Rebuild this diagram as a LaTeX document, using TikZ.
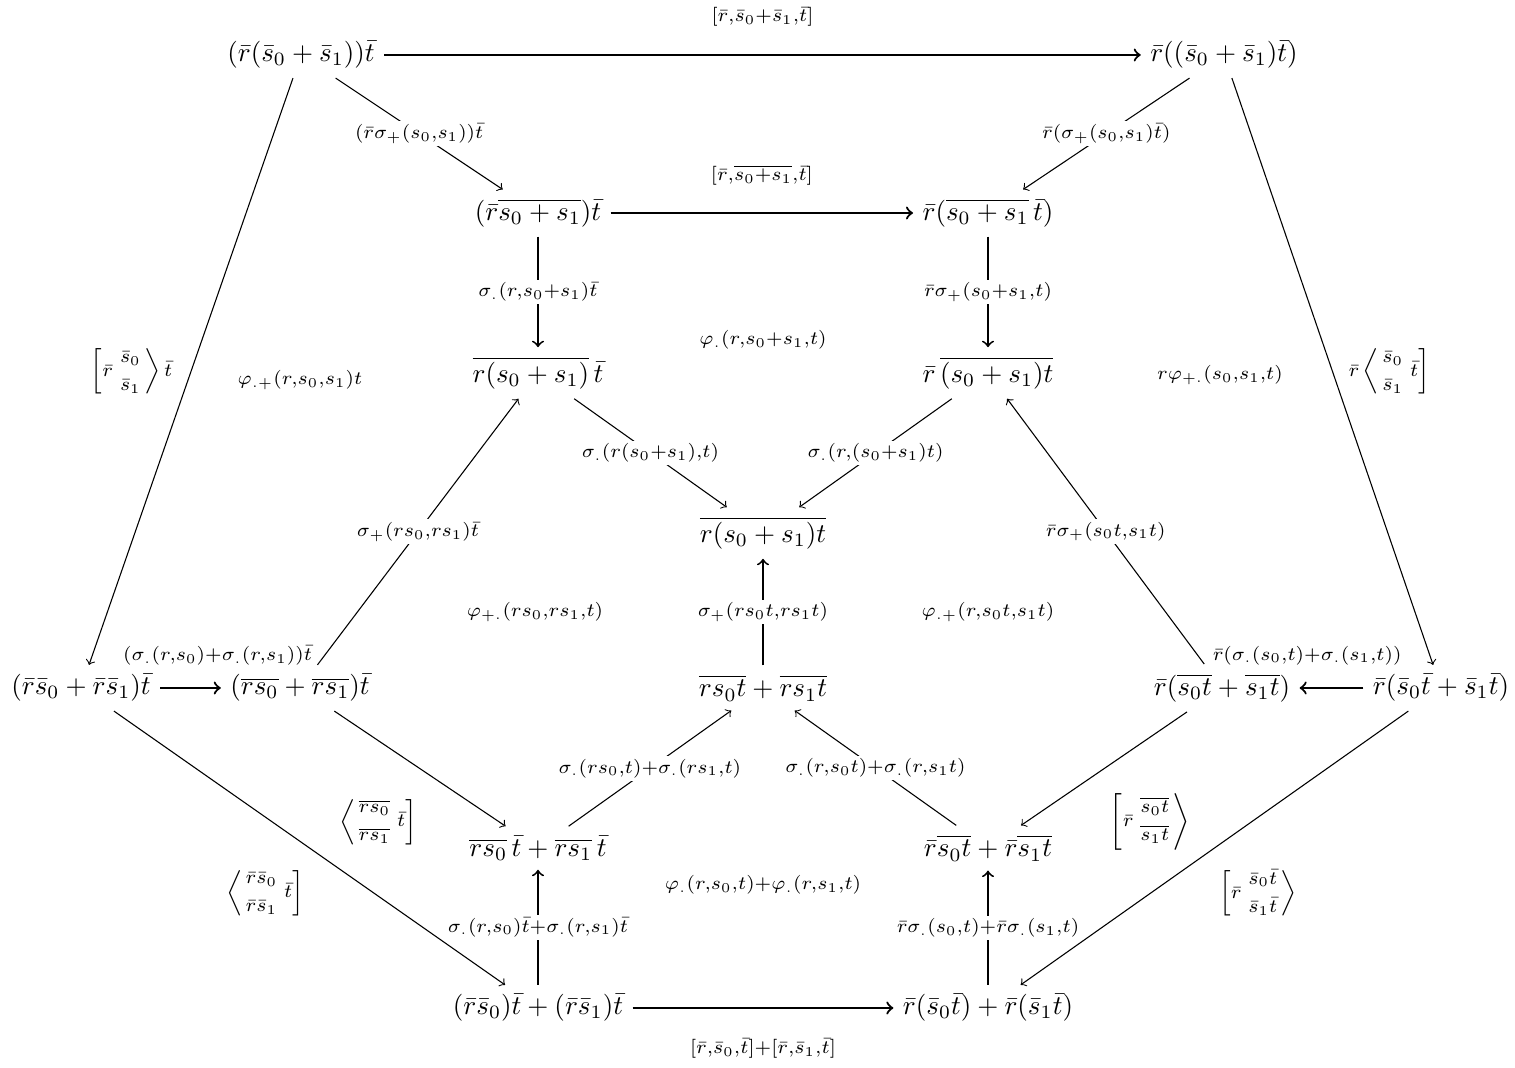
\documentclass[tikz,border=0pt]{standalone}
\usepackage{amsmath}
\mathcode`\,="013B
\newcommand{\stk}[2]{\genfrac{}{}{0pt}{0}{#1}{#2}}
\begin{document}
\begin{tikzpicture}[x=0.013cm,y=-0.013cm,>=to,
    lab/.style={font=\scriptsize,inner sep=1pt},
    onlab/.style={lab,fill=white},
    heavy/.style={line width=0.8pt},
    vert/.style={line width=0.7pt}]
  \useasboundingbox (0,0) rectangle (1515,1068);
  \draw
    (301,55) node (a){$(\bar r(\bar s_0+\bar s_1))\bar t$}
    (1224,55) node (b){$\bar r((\bar s_0+\bar s_1)\bar t)$}
    (538,213) node (c){$(\bar r\overline{s_0+s_1})\bar t$}
    (988,213) node (d){$\bar r(\overline{s_0+s_1}\,\bar t)$}
    (538,373) node (e){$\overline{r(s_0+s_1)}\,\bar t$}
    (988,373) node (f){$\bar r\,\overline{(s_0+s_1)t}$}
    (763,533) node (g){$\overline{r(s_0+s_1)t}$}
    (81,688) node (h){$(\bar r\bar s_0+\bar r\bar s_1)\bar t$}
    (300,688) node (i){$(\overline{rs_0}+\overline{rs_1})\bar t$}
    (763,688) node (j){$\overline{rs_0t}+\overline{rs_1t}$}
    (1222,688) node (k){$\bar r(\overline{s_0t}+\overline{s_1t})$}
    (1441,688) node (l){$\bar r(\bar s_0\bar t+\bar s_1\bar t)$}
    (538,848) node (m){$\overline{rs_0}\,\bar t+\overline{rs_1}\,\bar t$}
    (988,848) node (n){$\bar r\overline{s_0t}+\bar r\overline{s_1t}$}
    (538,1008) node (o){$(\bar r\bar s_0)\bar t+(\bar r\bar s_1)\bar t$}
    (988,1008) node (p){$\bar r(\bar s_0\bar t)+\bar r(\bar s_1\bar t)$};
  % faces
  \draw
    (763,340) node[lab] (phi1){$\varphi_{.}(r,s_0{+}s_1,t)$}
    (300,380) node[lab] (phi2){$\varphi_{.+}(r,s_0,s_1)t$}
    (1220,375) node[lab] (phi3){$r\varphi_{+.}(s_0,s_1,t)$}
    (535,612) node[lab] (phi4){$\varphi_{+.}(rs_0,rs_1,t)$}
    (988,612) node[lab] (phi5){$\varphi_{.+}(r,s_0t,s_1t)$}
    (763,885) node[lab] (phi6){$\varphi_{.}(r,s_0,t){+}\varphi_{.}(r,s_1,t)$}
    (378,822) node[lab] (q1){$\left\langle\stk{\overline{rs_0}}{\overline{rs_1}}\,\bar t\right]$}
    (265,893) node[lab] (q2){$\left\langle\stk{\bar r\bar s_0}{\bar r\bar s_1}\,\bar t\right]$}
    (1150,822) node[lab] (q3){$\left[\bar r\,\stk{\overline{s_0t}}{\overline{s_1t}}\right\rangle$}
    (1258,893) node[lab] (q4){$\left[\bar r\,\stk{\bar s_0\bar t}{\bar s_1\bar t}\right\rangle$};
  \begin{scope}[->]
    \draw[heavy] (a) to node[lab,midway,yshift=14pt]{$[\bar r,\bar s_0{+}\bar s_1,\bar t]$} (b);
    \draw (a) to node[onlab,midway]{$(\bar r\sigma_+(s_0,s_1))\bar t$} (c);
    \draw (b) to node[onlab,midway]{$\bar r(\sigma_+(s_0,s_1)\bar t)$} (d);
    \draw (a) to node[lab,midway,xshift=-22pt]{$\left[\bar r\,\stk{\bar s_0}{\bar s_1}\right\rangle\bar t$} (h);
    \draw (b) to node[lab,midway,xshift=21pt]{$\bar r\left\langle\stk{\bar s_0}{\bar s_1}\,\bar t\right]$} (l);
    \draw[heavy] (c) to node[lab,midway,yshift=14pt]{$[\bar r,\overline{s_0{+}s_1},\bar t]$} (d);
    \draw[vert] (c) to node[onlab,midway]{$\sigma_{.}(r,s_0{+}s_1)\bar t$} (e);
    \draw[vert] (d) to node[onlab,midway]{$\bar r\sigma_+(s_0{+}s_1,t)$} (f);
    \draw (e) to node[onlab,midway]{$\sigma_{.}(r(s_0{+}s_1),t)$} (g);
    \draw (f) to node[onlab,midway]{$\sigma_{.}(r,(s_0{+}s_1)t)$} (g);
    \draw (i) to node[onlab,midway]{$\sigma_+(rs_0,rs_1)\bar t$} (e);
    \draw (k) to node[onlab,midway]{$\bar r\sigma_+(s_0t,s_1t)$} (f);
    \draw[vert] (j) to node[onlab,midway]{$\sigma_+(rs_0t,rs_1t)$} (g);
    \draw[heavy] (h) to node[lab,midway,yshift=12pt,xshift=10pt]{$(\sigma_{.}(r,s_0){+}\sigma_{.}(r,s_1))\bar t$} (i);
    \draw[heavy] (l) to node[lab,midway,yshift=12pt,xshift=-9pt]{$\bar r(\sigma_{.}(s_0,t){+}\sigma_{.}(s_1,t))$} (k);
    \draw (i) to (m);
    \draw (h) to (o);
    \draw (k) to (n);
    \draw (l) to (p);
    \draw (m) to node[onlab,midway]{$\sigma_{.}(rs_0,t){+}\sigma_{.}(rs_1,t)$} (j);
    \draw (n) to node[onlab,midway]{$\sigma_{.}(r,s_0t){+}\sigma_{.}(r,s_1t)$} (j);
    \draw[vert] (o) to node[onlab,midway]{$\sigma_{.}(r,s_0)\bar t{+}\sigma_{.}(r,s_1)\bar t$} (m);
    \draw[vert] (p) to node[onlab,midway]{$\bar r\sigma_{.}(s_0,t){+}\bar r\sigma_{.}(s_1,t)$} (n);
    \draw[heavy] (o) to node[lab,midway,yshift=-15pt]{$[\bar r,\bar s_0,\bar t]{+}[\bar r,\bar s_1,\bar t]$} (p);
  \end{scope}
\end{tikzpicture}
\end{document}
